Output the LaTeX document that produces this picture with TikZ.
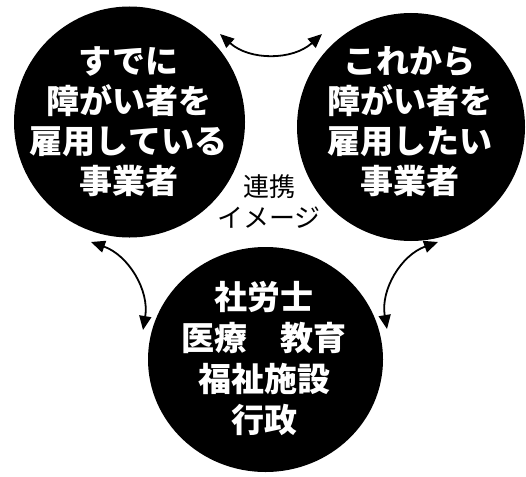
\documentclass[tikz,border=0pt]{standalone}
\usepackage{fontspec}
\newfontfamily\jp{Noto Sans CJK JP}
\usetikzlibrary{arrows.meta,shapes.geometric}
\begin{document}
\begin{tikzpicture}[x=1pt,y=-1pt,
  disk/.style={circle,fill=black,draw=none,inner sep=0pt,outer sep=0pt,minimum size=#1},
  wtext/.style={text=white,font=\jp\bfseries\fontsize{33}{40}\selectfont,align=center,inner sep=0pt},
  ctext/.style={text=black,font=\jp\fontsize{26}{31}\selectfont,align=center,inner sep=0pt},
  link/.style={line width=1.8pt,{Triangle[length=14pt,width=12pt]}-{Triangle[length=14pt,width=12pt]}}]
\useasboundingbox (0,0) rectangle (526,476);
\node[disk=231pt] (L) at (129.5,122) {};
\node[disk=228pt] (R) at (411,127) {};
\node[ellipse,fill=black,draw=none,inner sep=0pt,minimum width=235pt,minimum height=225pt] (B) at (265.5,359.5) {};
\node[wtext] (Lt) at (128.5,122) {すでに\\障がい者を\\雇用している\\事業者};
\node[wtext] (Rt) at (409.5,121.5) {これから\\障がい者を\\雇用したい\\事業者};
\node[wtext,font=\jp\bfseries\fontsize{33}{41}\selectfont] (Bt) at (264,358) {社労士\\医療　教育\\福祉施設\\行政};
\node[ctext] (C) at (269,202) {連携\\イメージ};
\coordinate (a1) at (220,34);
\coordinate (a2) at (322,34);
\coordinate (b1) at (91,242);
\coordinate (b2) at (143,330);
\coordinate (c1) at (438,242);
\coordinate (c2) at (387,329);
\draw[link] (a1) to[bend right=42] (a2);
\draw[link] (b1) to[bend left=40] (b2);
\draw[link] (c1) to[bend right=40] (c2);
\end{tikzpicture}
\end{document}
